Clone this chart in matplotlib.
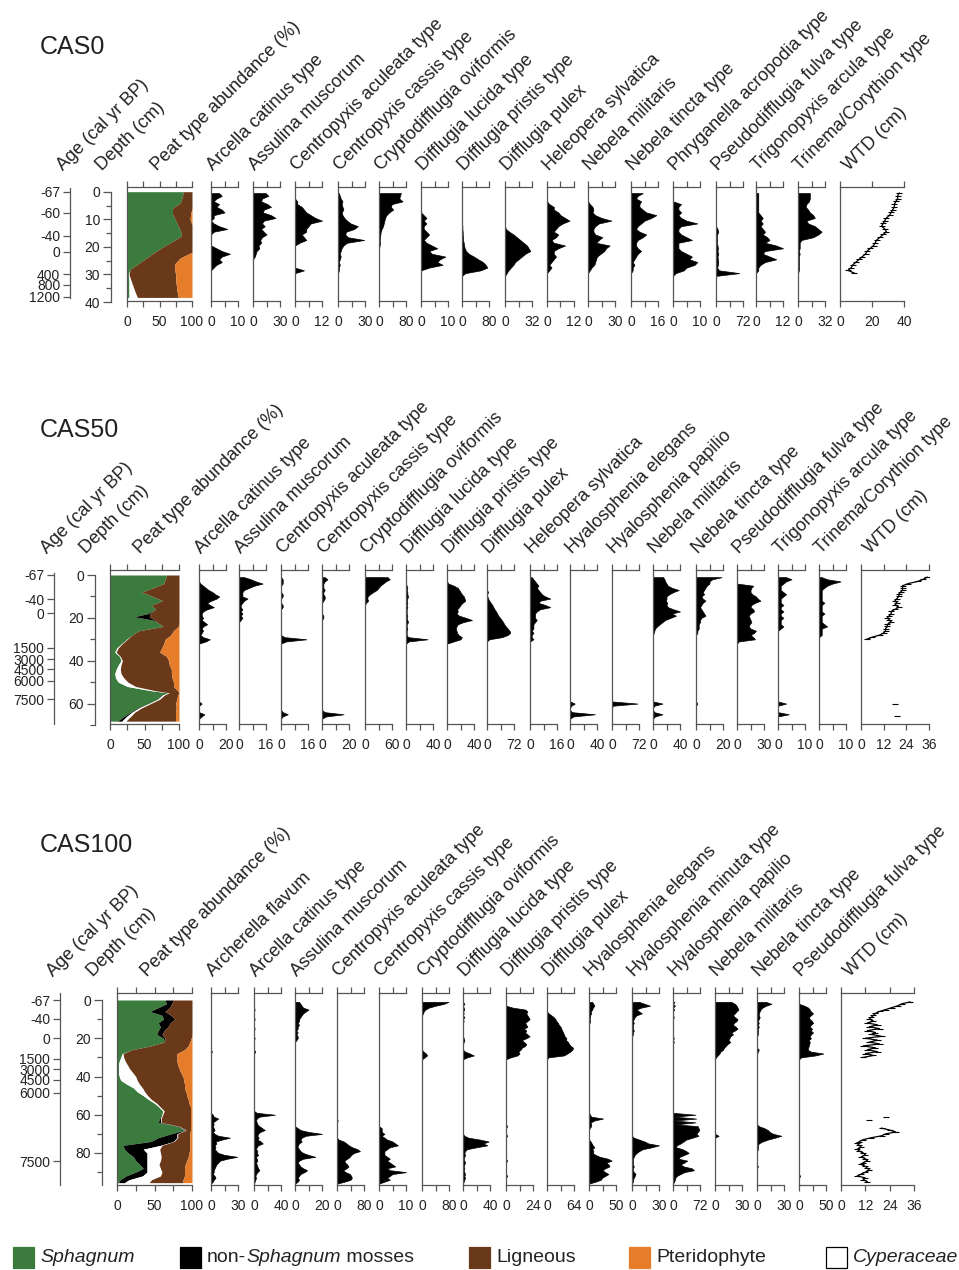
import matplotlib.pyplot as plt
import numpy as np
from matplotlib.patches import Rectangle

plt.rcParams['font.family'] = ['Liberation Sans', 'DejaVu Sans']

nan = np.nan

# ---------------- CAS0 ----------------
cas0_depth = [0.5, 1.5, 2.5, 3.5, 4.5, 5.5, 6.5, 7.5, 8.5, 9.5, 10.5, 11.5, 12.5, 13.5, 14.5, 15.5,
              16.5, 17.5, 18.5, 19.5, 20.5, 21.5, 22.5, 23.5, 24.5, 25.5, 26.5, 27.5, 28.5, 29.5, 30.5]
cas0_names = ['Arcella catinus type', 'Assulina muscorum', 'Centropyxis aculeata type',
              'Centropyxis cassis type', 'Cryptodifflugia oviformis', 'Difflugia lucida type',
              'Difflugia pristis type', 'Difflugia pulex', 'Heleopera sylvatica', 'Nebela militaris',
              'Nebela tincta type', 'Phryganella acropodia type', 'Pseudodifflugia fulva type',
              'Trigonopyxis arcula type', 'Trinema/Corythion type']
cas0_max = [10, 30, 12, 30, 80, 10, 80, 32, 12, 30, 16, 10, 72, 12, 32]
cas0_arcella = [3, 4, 2, 1, 3, 2, 4, 5, 1, 1, 0, 1, 3, 6, 1, 0, 0, 0, 0, 0, 2, 4, 7, 4, 3, 4, 2, 1, 0, 0, 0]
cas0_assulina = [14, 17, 10, 9, 16, 20, 12, 11, 20, 25, 12, 10, 13, 9, 12, 15, 10, 8, 9, 6, 7, 4, 3, 2, 0, 0, 0, 0, 0, 0, 0]
cas0_c_aculeata = [0, 0, 0, 1, 1, 3, 4, 5, 7, 9, 12, 7, 6, 5, 5, 3, 4, 5, 2, 0, 0, 0, 0, 0, 0, 0, 0, 0, 4, 0, 0]
cas0_c_cassis = [1, 2, 3, 5, 4, 5, 6, 4, 5, 7, 10, 14, 22, 18, 9, 8, 11, 29, 10, 6, 4, 3, 2, 3, 2, 1, 2, 1, 1, 0, 0]
cas0_crypto = [65, 62, 60, 70, 38, 35, 42, 30, 22, 18, 16, 14, 12, 8, 5, 4, 3, 2, 3, 2, 0, 0, 0, 0, 0, 0, 0, 0, 0, 0, 0]
cas0_d_lucida = [0, 0, 0, 0, 0, 0, 0, 0, 1, 2, 1, 2, 1, 1, 2, 3, 2, 1, 2, 4, 6, 3, 4, 9, 7, 6, 8, 3, 0, 0, 0]
cas0_d_pristis = [0, 0, 0, 0, 0, 0, 0, 0, 0, 0, 0, 0, 1, 1, 2, 2, 3, 3, 5, 6, 8, 12, 20, 35, 48, 62, 70, 75, 55, 10, 0]
cas0_d_pulex = [0, 0, 0, 0, 0, 0, 0, 0, 0, 0, 0, 0, 0, 1, 5, 10, 14, 18, 22, 26, 28, 30, 24, 20, 16, 12, 10, 7, 4, 2, 0]
cas0_heleopera = [0, 0, 0, 0, 1, 3, 3, 5, 6, 8, 10, 7, 5, 4, 3, 5, 4, 2, 3, 8, 5, 3, 3, 4, 3, 2, 1, 2, 1, 0, 0]
cas0_n_militaris = [0, 0, 0, 0, 2, 5, 6, 5, 8, 15, 26, 12, 8, 6, 6, 8, 16, 12, 9, 24, 20, 18, 14, 10, 9, 8, 7, 4, 2, 0, 0]
cas0_n_tincta = [7, 4, 3, 6, 5, 5, 7, 9, 15, 12, 8, 6, 4, 3, 5, 9, 7, 4, 3, 3, 4, 6, 4, 3, 2, 1, 2, 1, 1, 0, 0]
cas0_phryganella = [0, 0, 0, 0, 3, 2, 2, 3, 2, 3, 5, 9, 3, 2, 2, 3, 5, 7, 2, 2, 2, 3, 5, 7, 6, 9, 8, 5, 4, 1, 0]
cas0_pseudodiff = [0, 0, 0, 0, 0, 0, 0, 0, 0, 0, 0, 0, 0, 4, 6, 3, 2, 3, 2, 4, 5, 4, 6, 4, 5, 6, 5, 3, 8, 62, 0]
cas0_trigonopyxis = [1, 1, 1, 1, 1, 1, 1, 1, 2, 3, 2, 3, 2, 3, 4, 3, 5, 6, 4, 9, 12, 4, 3, 6, 9, 4, 2, 1, 1, 0, 0]
cas0_trinema = [14, 14, 14, 13, 10, 9, 12, 14, 18, 20, 10, 12, 20, 24, 28, 24, 18, 4, 2, 2, 2, 1, 2, 1, 1, 1, 1, 1, 1, 0, 0]
cas0_wtd = [37, 36, 36, 35, 34, 34, 33, 32, 31, 29, 28, 27, 26, 28, 29, 27, 25, 23, 22, 21,
            19, 17, 16, 14, 12, 10, 8, 7, 5, 9, nan]
cas0_peat_depth = [0, 2, 4, 6, 8, 10, 12, 14, 16, 18, 20, 22, 24, 26, 28, 30, 32, 34, 36, 38.3]
cas0_sphagnum = [87, 85, 82, 70, 70, 74, 78, 82, 84, 70, 55, 42, 30, 18, 5, 2, 3, 3, 3, 3]
cas0_nonsph = [0, 0, 0, 0, 0, 0, 0, 0, 0, 0, 0, 0, 0, 0, 0, 0, 0, 0, 0, 0]
cas0_cyperaceae = [0, 0, 0, 0, 0, 0, 0, 0, 0, 0, 0, 0, 0, 0, 0, 1, 3, 6, 9, 13]
cas0_ligneous = [13, 15, 18, 30, 28, 23, 22, 18, 16, 30, 45, 58, 52, 56, 68, 72, 69, 67, 65, 63]
cas0_pterido = [0, 0, 0, 0, 2, 3, 0, 0, 0, 0, 0, 0, 18, 26, 27, 25, 25, 24, 23, 21]
cas0_age_labels = ['-67', '-60', '-40', '0', '400', '800', '1200']
cas0_age_depth = [0, 7.6, 15.9, 21.7, 29.9, 33.8, 38.0]

# ---------------- CAS50 ----------------
cas50_depth = [1, 2, 3, 4, 5, 6, 7, 8, 9, 10, 11, 12, 13, 14, 15, 16, 17, 18, 19, 20, 21, 22, 23, 24,
               25, 26, 27, 28, 29, 30, 31, 32, 59, 60, 61, 62, 63, 64, 65, 66, 67, 68]
cas50_names = ['Arcella catinus type', 'Assulina muscorum', 'Centropyxis aculeata type',
               'Centropyxis cassis type', 'Cryptodifflugia oviformis', 'Difflugia lucida type',
               'Difflugia pristis type', 'Difflugia pulex', 'Heleopera sylvatica', 'Hyalosphenia elegans',
               'Hyalosphenia papilio', 'Nebela militaris', 'Nebela tincta type',
               'Pseudodifflugia fulva type', 'Trigonopyxis arcula type', 'Trinema/Corythion type']
cas50_max = [20, 16, 16, 20, 60, 40, 40, 72, 16, 40, 72, 40, 20, 30, 10, 10]
cas50_arcella = [0, 0, 0, 1, 3, 5, 7, 10, 12, 15, 13, 9, 6, 8, 11, 6, 3, 2, 2, 3, 2, 4, 6, 3, 2, 3, 2, 1, 3, 8, 5, 0] + [0, 2, 0, 0, 0, 0, 4, 2, 0, 0]
cas50_assulina = [3, 7, 10, 14, 9, 6, 3, 2, 2, 2, 5, 3, 2, 1, 1, 2, 1, 2, 1, 2, 1, 0, 0, 0, 0, 0, 0, 0, 0, 0, 0, 0] + [0] * 10
cas50_c_aculeata = [0, 1, 1, 1, 0, 0, 0, 0, 1, 1, 0, 0, 0, 1, 1, 0, 0, 0, 0, 0, 0, 0, 0, 0, 0, 0, 0, 0, 2, 15, 3, 0] + [0, 0, 0, 0, 0, 1, 4, 1, 0, 0]
cas50_c_cassis = [2, 4, 2, 1, 1, 1, 2, 1, 1, 2, 2, 1, 0, 0, 0, 0, 0, 0, 1, 1, 0, 0, 0, 0, 0, 0, 0, 0, 0, 0, 0, 0] + [0, 0, 0, 0, 0, 2, 16, 3, 0, 0]
cas50_crypto = [50, 55, 46, 40, 34, 30, 26, 18, 11, 6, 5, 7, 2] + [0] * 19 + [0] * 10
cas50_d_lucida = [0, 0, 0, 0, 1, 2, 1, 2, 2, 3, 2, 1, 2, 1, 2, 1, 1, 1, 2, 1, 2, 3, 1, 1, 2, 1, 1, 1, 3, 32, 4, 0] + [0] * 10
cas50_d_pristis = [0, 0, 0, 2, 10, 16, 18, 20, 22, 25, 26, 27, 23, 20, 18, 15, 16, 14, 18, 28, 37, 24, 16, 14, 13, 14, 15, 17, 22, 20, 10, 0] + [0] * 10
cas50_d_pulex = [0, 0, 0, 0, 0, 0, 0, 3, 0, 1, 3, 6, 10, 14, 17, 20, 24, 27, 30, 35, 39, 43, 46, 50, 55, 60, 62, 55, 40, 6, 0, 0] + [0] * 10
cas50_heleopera = [1, 2, 3, 4, 5, 4, 5, 6, 7, 9, 12, 6, 5, 9, 12, 6, 4, 3, 3, 3, 4, 3, 2, 2, 2, 1, 2, 1, 1, 2, 0, 0] + [0] * 10
cas50_h_elegans = [0] * 32 + [0, 7, 2, 0, 0, 3, 37, 5, 0, 0]
cas50_h_papilio = [0] * 32 + [0, 68, 2, 0, 0, 0, 0, 0, 0, 0]
cas50_n_militaris = [15, 17, 18, 20, 22, 28, 38, 30, 24, 20, 20, 19, 21, 20, 22, 30, 40, 28, 34, 26, 18, 14, 10, 6, 3, 2, 1, 0, 0, 0, 0, 0] + [0, 14, 2, 0, 0, 2, 14, 3, 0, 0]
cas50_n_tincta = [19, 12, 10, 10, 8, 7, 6, 5, 6, 4, 5, 7, 5, 4, 3, 4, 5, 6, 7, 4, 3, 3, 2, 2, 2, 1, 1, 0, 0, 0, 0, 0] + [0, 1, 0, 0, 0, 0, 0, 0, 0, 0]
cas50_pseudodiff = [0, 0, 0, 0, 18, 16, 15, 15, 17, 21, 23, 26, 20, 16, 15, 18, 19, 15, 13, 14, 15, 16, 14, 13, 15, 21, 19, 15, 18, 20, 2, 0] + [0] * 10
cas50_trigonopyxis = [3, 5, 3, 2, 1, 1, 1, 2, 3, 2, 1, 1, 1, 2, 1, 1, 2, 1, 1, 2, 1, 1, 1, 2, 1, 0, 0, 0, 0, 0, 0, 0] + [0, 3, 0, 0, 0, 0, 4, 0, 0, 0]
cas50_trinema = [1, 3, 8, 5, 3, 2, 1, 1, 1, 1, 1, 1, 2, 1, 1, 1, 1, 2, 1, 1, 1, 1, 2, 3, 1, 1, 1, 1, 0, 0, 0, 0] + [0] * 10
cas50_wtd = [35, 33, 30, 25, 22, 22, 22, 21, 20, 20, 19, 18, 19, 18, 20, 18, 16, 16, 15, 14,
             15, 16, 14, 14, 13, 13, 12, 10, 6, 3, nan, nan] + [nan, 18, nan, nan, nan, nan, nan, 19, nan, nan]
cas50_peat_depth = [0, 2, 4, 6, 8, 10, 12, 14, 16, 18, 19.5, 21, 22, 24, 26, 28, 30, 32, 34, 36, 38, 40,
                    42, 44, 46, 48, 50, 52, 54, 55, 56, 58, 60, 62, 64, 66, 68.2]
cas50_sphagnum = [82, 80, 78, 62, 46, 62, 76, 60, 66, 55, 35, 62, 68, 77, 42, 32, 24, 17, 10, 7, 14, 16,
                  12, 9, 7, 8, 12, 25, 60, 84, 75, 68, 55, 40, 30, 20, 11]
cas50_nonsph = [0, 0, 0, 0, 0, 0, 0, 0, 0, 3, 22, 3, 0, 0, 0, 0, 0, 0, 0, 0, 0, 0,
                0, 0, 0, 0, 0, 0, 0, 0, 1, 1, 1, 2, 2, 4, 6]
cas50_cyperaceae = [0, 0, 0, 0, 0, 0, 0, 0, 0, 0, 0, 0, 0, 0, 0, 0, 1, 1, 2, 2, 1, 2,
                    4, 6, 9, 12, 14, 12, 6, 2, 3, 3, 3, 4, 4, 6, 6]
cas50_ligneous = [18, 20, 22, 38, 54, 38, 24, 40, 34, 42, 43, 35, 32, 22, 50, 56, 55, 60, 63, 63, 67, 67,
                  70, 74, 73, 70, 66, 55, 32, 14, 19, 25, 36, 50, 59, 65, 72]
cas50_pterido = [0, 0, 0, 0, 0, 0, 0, 0, 0, 0, 0, 0, 0, 1, 8, 12, 20, 22, 25, 28, 18, 15,
                 14, 11, 11, 10, 8, 8, 2, 0, 2, 3, 5, 4, 5, 5, 5]
cas50_age_labels = ['-67', '-40', '0', '1500', '3000', '4500', '6000', '7500']
cas50_age_depth = [0, 11.3, 17.9, 33.9, 39.2, 44.0, 49.3, 58.0]

# ---------------- CAS100 ----------------
cas100_depth = [1, 2, 3, 4, 5, 6, 7, 8, 9, 10, 11, 12, 13, 14, 15, 16, 17, 18, 19, 20,
                21, 22, 23, 24, 25, 26, 27, 28, 29, 30, 31, 32, 33, 34, 35, 36, 37, 38, 39, 40,
                41, 42, 43, 44, 45, 46, 47, 48, 49, 50, 51, 52, 53, 54, 55, 56, 57, 58, 59, 60,
                61, 62, 63, 64, 65, 66, 67, 68, 69, 70, 71, 72, 73, 74, 75, 76, 77, 78, 79, 80,
                81, 82, 83, 84, 85, 86, 87, 88, 89, 90, 91, 92, 93, 94, 95, 96]
cas100_names = ['Archerella flavum', 'Arcella catinus type', 'Assulina muscorum',
                'Centropyxis aculeata type', 'Centropyxis cassis type', 'Cryptodifflugia oviformis',
                'Difflugia lucida type', 'Difflugia pristis type', 'Difflugia pulex',
                'Hyalosphenia elegans', 'Hyalosphenia minuta type', 'Hyalosphenia papilio',
                'Nebela militaris', 'Nebela tincta type', 'Pseudodifflugia fulva type']
cas100_max = [30, 40, 20, 80, 10, 80, 40, 24, 64, 50, 30, 72, 30, 30, 50]
cas100_archerella = [0] * 26 + [1] + [0] * 32 + [2, 3, 8, 5, 2, 3, 2, 3, 4, 2, 4, 8, 21, 12, 5, 6, 4, 5, 4, 6, 8,
                                                 15, 29, 18, 10, 8, 6, 5, 4, 3, 3, 2, 4, 5, 3, 2, 0]
cas100_arcella = [0, 0, 0, 0, 1, 0, 0, 0, 0, 1, 0, 0, 0, 0, 1, 0, 0, 0, 0, 1, 0, 0, 0, 0, 0, 0, 2] + [0] * 31 + \
                 [4, 31, 8, 4, 3, 4, 5, 8, 12, 16, 9, 6, 5, 7, 5, 10, 13, 6, 4, 3, 5, 4,
                  6, 3, 4, 5, 3, 4, 5, 6, 8, 5, 3, 2, 3, 2, 1, 0]
cas100_assulina = [3, 4, 5, 6, 10, 8, 6, 5, 4, 3, 3, 2, 3, 2, 2, 1, 2, 1, 2, 2, 1] + [0] * 45 + \
                  [2, 4, 10, 20, 8, 5, 4, 5, 3, 2, 2, 3, 4, 6, 10, 15, 6, 3, 2, 3, 4, 6, 9, 7, 4, 3, 2, 3, 2, 0]
cas100_c_aculeata = [0] * 62 + [2] + [0] * 9 + [5, 20, 28, 35, 45, 60, 68, 50, 42, 38, 30, 22, 24, 30, 34, 28,
                                                18, 25, 38, 42, 44, 40, 22, 0]
cas100_c_cassis = [0] * 66 + [1, 1, 1, 2, 1, 2, 3, 5, 6, 7, 4, 3, 2, 2, 2, 3, 4, 3, 4, 5, 6, 3, 4, 10, 5, 4, 3, 4, 2, 0]
cas100_crypto = [78, 65, 40, 20, 10, 5, 3] + [0] * 19 + [4, 12, 15, 8] + [0] * 66
cas100_d_lucida = [0, 2, 0, 1, 2, 0, 1, 0, 2, 0, 1] + [0] * 8 + [1, 2, 1] + [0] * 4 + [3, 10, 16, 6] + [0] * 40 + \
                  [2, 8, 25, 38, 30, 36, 20, 6, 3, 2, 3, 2, 1, 2, 3, 2, 1, 2, 1, 2, 3, 2, 3, 2, 1, 0]
cas100_d_pristis = [0, 0, 0, 6, 17, 19, 18, 19, 20, 21, 19, 17, 18, 19, 16, 18, 17, 19, 21, 18,
                    14, 16, 18, 17, 14, 13, 11, 12, 10, 4] + [0] * 35 + [1] + [0] * 4 + [1] + [0] * 12 + \
                   [1] + [0] * 7 + [1] + [0] * 4
cas100_d_pulex = [0, 0, 0, 0, 0, 0, 4, 10, 16, 20, 22, 26, 28, 32, 34, 36, 38, 40, 42, 46,
                  45, 50, 52, 56, 62, 60, 55, 48, 40, 3] + [0] * 66
cas100_h_elegans = [6, 8, 10, 7, 6, 3, 4, 2, 2, 1, 2, 1] + [0] * 47 + [2, 4, 26, 10, 3, 4, 4, 1] + [0] * 6 + \
                   [3, 5, 7, 10, 6, 8, 7, 12, 20, 35, 42, 32, 36, 38, 30, 25, 30, 36, 30, 24, 22, 12, 0]
cas100_h_minuta = [8, 14, 20, 10, 5, 8, 11, 5, 3, 2, 1, 2, 1, 1, 1, 2, 1, 1] + [0] * 53 + \
                  [2, 8, 14, 18, 30, 22, 12, 8, 5, 3, 2, 1, 1, 1, 1, 2, 1, 1, 2, 4, 3, 2, 1, 1, 0]
cas100_h_papilio = [4, 0, 5, 0, 3, 0, 0, 0, 2, 0, 0, 0, 0, 0, 0, 0, 0, 0, 0, 2, 0, 2] + [0] * 37 + \
                   [60, 4, 62, 4, 60, 8, 66, 68, 70, 66, 62, 68, 52, 35, 28, 20, 10, 8, 25, 35,
                    42, 30, 18, 15, 38, 30, 20, 28, 50, 56, 30, 20, 10, 6, 5, 3, 0]
cas100_n_militaris = [18, 22, 24, 25, 26, 24, 22, 20, 22, 25, 24, 21, 20, 23, 25, 22, 18, 20, 17, 16,
                      15, 17, 14, 12, 10, 9, 6, 5, 3, 1] + [0] * 40 + [4] + [0] * 25
cas100_n_tincta = [10, 16, 10, 6, 4, 3, 2, 2, 3, 2, 1, 2, 1, 2, 1, 1, 1, 1] + [0] * 7 + [2, 1] + [0] * 38 + \
                  [2, 8, 12, 14, 18, 27, 20, 12, 6, 2, 1, 1, 1] + [0] * 8 + [1] + [0] * 9
cas100_pseudodiff = [0, 0, 10, 17, 20, 22, 26, 22, 18, 20, 24, 26, 22, 20, 24, 22, 26, 22, 20, 22,
                     18, 20, 19, 18, 17, 16, 22, 45, 30, 4] + [0] * 61 + [2] + [0] * 4
cas100_wtd = [34, 30, 28, 25, 22, 19, 17, 16, 15, 14, 16, 13, 18, 14, 19, 13, 17, 15, 20, 12,
              18, 14, 19, 11, 17, 13, 18, 12, 16, 11] + [nan] * 30 + [22, nan, 14] + [nan] * 3 + \
             [20, 24, 27, 22, 20, 15, 11, 9, 8, 9, 10, 8, 9, 11, 12, 10, 12, 13, 11, 10,
              12, 13, 14, 12, 10, 8, 12, 11, 13, nan]
cas100_peat_depth = [0, 2, 4, 6, 8, 10, 12, 14, 16, 18, 20, 22, 24, 26, 28, 30, 32, 34, 36, 38, 40, 42, 44,
                     46, 48, 50, 52, 54, 56, 58, 60, 62, 64, 66, 68, 70, 72, 74, 76, 78, 80, 82, 84, 86,
                     88, 90, 92, 94, 95.5]
cas100_sphagnum = [64, 66, 55, 44, 60, 62, 55, 58, 55, 53, 62, 63, 45, 20, 7, 5, 3, 2, 2, 2, 3, 5, 13,
                   22, 27, 35, 42, 50, 56, 61, 60, 57, 55, 80, 90, 72, 55, 45, 8, 10, 15, 22, 25, 30,
                   35, 25, 12, 4, 2]
cas100_nonsph = [11, 7, 15, 20, 12, 15, 16, 10, 8, 7, 2, 0, 0, 0, 0, 0, 0, 0, 0, 0, 0, 0, 0,
                 0, 0, 0, 0, 0, 0, 0, 0, 1, 3, 2, 1, 8, 25, 30, 50, 25, 25, 18, 15, 10,
                 5, 15, 22, 12, 8]
cas100_cyperaceae = [0, 0, 0, 0, 0, 0, 0, 0, 0, 0, 0, 0, 0, 0, 1, 4, 8, 12, 15, 19, 22, 22, 17,
                     12, 10, 6, 4, 3, 2, 2, 1, 1, 1, 1, 1, 1, 1, 1, 2, 22, 18, 19, 18, 16,
                     18, 20, 24, 30, 33]
cas100_ligneous = [25, 27, 30, 36, 28, 23, 29, 32, 37, 40, 35, 34, 50, 70, 72, 71, 69, 67, 66, 64, 63, 62, 60,
                   56, 55, 52, 49, 43, 40, 35, 37, 39, 39, 15, 6, 16, 16, 21, 37, 40, 38, 36, 35, 35,
                   32, 30, 32, 42, 45]
cas100_pterido = [0, 0, 0, 0, 0, 0, 0, 0, 0, 0, 1, 3, 5, 10, 20, 20, 20, 19, 17, 15, 12, 11, 10,
                  10, 8, 7, 5, 4, 2, 2, 2, 2, 2, 2, 2, 3, 3, 3, 3, 3, 4, 5, 7, 9,
                  10, 10, 10, 12, 12]
cas100_age_labels = ['-67', '-40', '0', '1500', '3000', '4500', '6000', '7500']
cas100_age_depth = [0, 9.9, 20.1, 30.6, 36.3, 41.8, 48.6, 84.2]

# legend entries: list of (text, italic) pieces
legend_pieces = [[('Sphagnum', True)],
                 [('non-', False), ('Sphagnum', True), (' mosses', False)],
                 [('Ligneous', False)],
                 [('Pteridophyte', False)],
                 [('Cyperaceae', True)]]

AXC = '#555555'
TXT = '#222222'
GREEN = '#3b7b3e'
BROWN = '#6a391a'
ORANGE = '#e57d2b'
PEAT_COLORS = [GREEN, 'black', 'white', BROWN, ORANGE]
TICK_FS = 10
HEAD_FS = 13

W, H = 959, 1270
fig = plt.figure(figsize=(W / 100, H / 100), dpi=100)
ov = fig.add_axes([0, 0, 1, 1])
ov.set_xlim(0, W)
ov.set_ylim(H, 0)
ov.axis('off')


def px_axes(x0, y0, x1, y1):
    ax = fig.add_axes([x0 / W, 1 - y1 / H, (x1 - x0) / W, (y1 - y0) / H])
    ax.patch.set_visible(False)
    return ax


def keep_spines(ax, keep):
    for k, s in ax.spines.items():
        s.set_visible(k in keep)
        s.set_color(AXC)
        s.set_linewidth(0.9)


def header(x, y, s):
    ov.text(x, y, s, rotation=45, rotation_mode='anchor', ha='left', va='baseline',
            fontsize=HEAD_FS, color=TXT)


def x_column(x0, w, lay, xmax, ticks, labels):
    top, bot = lay['top'], lay['bot']
    ax = px_axes(x0, top, x0 + w, bot)
    keep_spines(ax, ['left', 'top', 'bottom'])
    ax.set_xlim(0, xmax)
    ax.set_ylim((bot - lay['d0']) / lay['ppc'], (top - lay['d0']) / lay['ppc'])
    ax.set_yticks([])
    ax.set_xticks(ticks, labels)
    ax.tick_params(axis='x', top=True, bottom=True, direction='out', length=4, width=0.9,
                   color=AXC, labelsize=TICK_FS, labelcolor=TXT, pad=6)
    return ax


def draw_core(name, lay, depth, taxa, maxes, names, wtd, wtd_max, wtd_ticks,
              peat_depth, peat_layers, age_labels, age_depth):
    d0, ppc, top = lay['d0'], lay['ppc'], lay['top']
    hy = top - 16
    ov.text(40, lay['title_y'], name, fontsize=18, color=TXT, va='center', ha='left')

    # age axis
    a0, a1 = lay['age_span']
    ax = px_axes(lay['age_x'], a0, lay['age_x'] + 1, a1)
    keep_spines(ax, ['left'])
    ax.set_ylim((a1 - d0) / ppc, (a0 - d0) / ppc)
    ax.set_xticks([])
    ax.set_yticks(age_depth, age_labels)
    ax.tick_params(axis='y', length=5, width=0.9, color=AXC, labelsize=TICK_FS, labelcolor=TXT, pad=2)
    header(lay['age_x'] - 7, hy, 'Age (cal yr BP)')

    # depth axis
    dx, dend = lay['depth_x'], lay['depth_end']
    ax = px_axes(dx, d0, dx + 1, d0 + dend * ppc)
    keep_spines(ax, ['left'])
    ax.set_ylim(dend, 0)
    ax.set_xticks([])
    major = np.arange(0, dend + 0.1, lay['major'])
    ax.set_yticks(major, [str(int(v)) for v in major])
    ax.set_yticks(np.arange(lay['minor'], dend + 0.1, lay['major']), minor=True)
    ax.tick_params(axis='y', which='major', length=6, width=0.9, color=AXC, labelsize=TICK_FS,
                   labelcolor=TXT, pad=2)
    ax.tick_params(axis='y', which='minor', length=3.5, width=0.9, color=AXC)
    header(dx - 9, hy, 'Depth (cm)')

    # peat composition
    p0, p1 = lay['peat']
    ax = x_column(p0, p1 - p0, lay, 100, [0, 25, 50, 75, 100], ['0', '', '50', '', '100'])
    left = np.zeros(len(peat_depth))
    for vals, col in zip(peat_layers, PEAT_COLORS):
        right = left + np.array(vals, dtype=float)
        ax.fill_betweenx(peat_depth, left, right, color=col, lw=0, zorder=1)
        left = right
    header(p0 + 30, hy, 'Peat type abundance (%)')

    # testate amoebae
    for x0, vals, mx, nm in zip(lay['cols'], taxa, maxes, names):
        ax = x_column(x0, lay['col_w'], lay, mx, [0, mx / 2, mx], ['0', '', str(mx)])
        ax.fill_betweenx(depth, 0, vals, facecolor='black', edgecolor='black', lw=0.5, zorder=1)
        header(x0 + 2, hy, nm)

    # water table depth
    wx, ww = lay['wtd']
    ax = x_column(wx, ww, lay, wtd_max, wtd_ticks, [str(t) for t in wtd_ticks])
    ax.plot(wtd, depth, color='black', lw=0.9, marker='_', ms=4, mew=0.8)
    header(wx + 9, hy, 'WTD (cm)')


lay0 = dict(title_y=47, d0=191.7, ppc=2.76, top=187, bot=301, age_x=70, age_span=(188, 298),
            depth_x=111, depth_end=40, major=10, minor=5, peat=(127, 192),
            cols=[211, 253, 295, 338, 379, 421, 462, 505, 547, 588, 631, 673, 716, 756, 798],
            col_w=27, wtd=(840, 64))
lay50 = dict(title_y=430, d0=575, ppc=2.143, top=570, bot=724, age_x=54, age_span=(573, 724),
             depth_x=95, depth_end=70, major=20, minor=10, peat=(110, 179),
             cols=[199, 239, 281, 322, 365, 406, 447, 487, 530, 570, 612, 653, 696, 737, 778, 819],
             col_w=27, wtd=(861, 68))
lay100 = dict(title_y=845, d0=1000, ppc=1.9125, top=993, bot=1185, age_x=60, age_span=(993, 1185),
              depth_x=102, depth_end=96.7, major=20, minor=10, peat=(117, 192),
              cols=[211, 254, 295, 337, 379, 422, 463, 506, 547, 589, 632, 673, 715, 757, 799],
              col_w=27, wtd=(841, 73))

draw_core('CAS0', lay0, cas0_depth,
          [cas0_arcella, cas0_assulina, cas0_c_aculeata, cas0_c_cassis, cas0_crypto, cas0_d_lucida,
           cas0_d_pristis, cas0_d_pulex, cas0_heleopera, cas0_n_militaris, cas0_n_tincta,
           cas0_phryganella, cas0_pseudodiff, cas0_trigonopyxis, cas0_trinema],
          cas0_max, cas0_names, cas0_wtd, 40, [0, 20, 40], cas0_peat_depth,
          [cas0_sphagnum, cas0_nonsph, cas0_cyperaceae, cas0_ligneous, cas0_pterido],
          cas0_age_labels, cas0_age_depth)

draw_core('CAS50', lay50, cas50_depth,
          [cas50_arcella, cas50_assulina, cas50_c_aculeata, cas50_c_cassis, cas50_crypto,
           cas50_d_lucida, cas50_d_pristis, cas50_d_pulex, cas50_heleopera, cas50_h_elegans,
           cas50_h_papilio, cas50_n_militaris, cas50_n_tincta, cas50_pseudodiff,
           cas50_trigonopyxis, cas50_trinema],
          cas50_max, cas50_names, cas50_wtd, 36, [0, 12, 24, 36], cas50_peat_depth,
          [cas50_sphagnum, cas50_nonsph, cas50_cyperaceae, cas50_ligneous, cas50_pterido],
          cas50_age_labels, cas50_age_depth)

draw_core('CAS100', lay100, cas100_depth,
          [cas100_archerella, cas100_arcella, cas100_assulina, cas100_c_aculeata, cas100_c_cassis,
           cas100_crypto, cas100_d_lucida, cas100_d_pristis, cas100_d_pulex, cas100_h_elegans,
           cas100_h_minuta, cas100_h_papilio, cas100_n_militaris, cas100_n_tincta,
           cas100_pseudodiff],
          cas100_max, cas100_names, cas100_wtd, 36, [0, 12, 24, 36], cas100_peat_depth,
          [cas100_sphagnum, cas100_nonsph, cas100_cyperaceae, cas100_ligneous, cas100_pterido],
          cas100_age_labels, cas100_age_depth)

# legend
legend_colors = [GREEN, 'black', BROWN, ORANGE, 'white']
legend_x = [13, 180, 469, 629, 826]
renderer = fig.canvas.get_renderer()
for lx, col, pieces in zip(legend_x, legend_colors, legend_pieces):
    ov.add_patch(Rectangle((lx, 1247), 21, 21, facecolor=col,
                           edgecolor='black' if col == 'white' else col, lw=0.9))
    tx = lx + 27
    for s, it in pieces:
        t = ov.text(tx, 1257.5, s, fontsize=14, color=TXT, va='center', ha='left',
                    style='italic' if it else 'normal')
        tx += t.get_window_extent(renderer=renderer).width

fig.savefig('out.png', dpi=100)
